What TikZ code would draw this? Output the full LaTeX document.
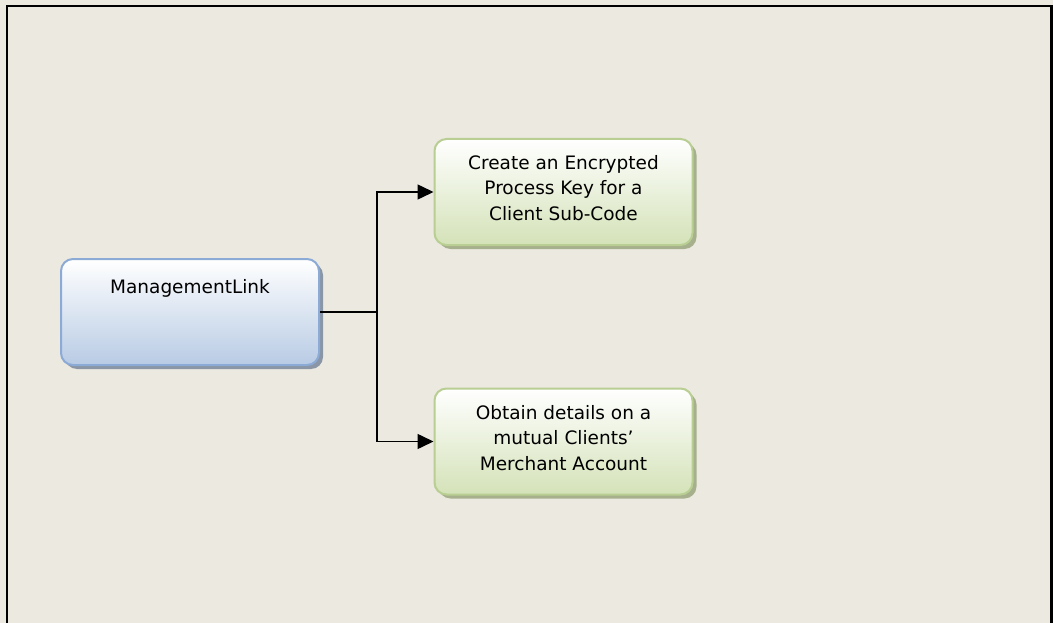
\documentclass[tikz,border=0pt]{standalone}
\usepackage{fontspec}
\setmainfont{DejaVu Sans}
\usetikzlibrary{arrows.meta,shadows}
\definecolor{bg}{RGB}{236,233,224}
\definecolor{bluebot}{RGB}{184,203,228}
\definecolor{blueborder}{RGB}{140,170,214}
\definecolor{blueshadow}{RGB}{138,150,166}
\definecolor{greenbot}{RGB}{212,226,184}
\definecolor{greenborder}{RGB}{184,206,146}
\definecolor{greenshadow}{RGB}{166,176,140}
\tikzset{
  box/.style={rectangle, rounded corners=12pt, minimum width=258pt, minimum height=106pt,
    line width=2pt, inner sep=0pt},
  bluebox/.style={box, draw=blueborder, top color=white, bottom color=bluebot,
    general shadow={shadow xshift=4pt, shadow yshift=-4pt, fill=blueshadow}},
  greenbox/.style={box, draw=greenborder, top color=white, bottom color=greenbot,
    general shadow={shadow xshift=4pt, shadow yshift=-4pt, fill=greenshadow}},
  lbl/.style={align=center, font=\fontsize{18.5}{25.5}\selectfont, inner sep=0pt},
  conn/.style={line width=1.5pt, black},
  arr/.style={conn, -{Triangle[length=16pt,width=15pt]}}
}
\begin{document}
\begin{tikzpicture}[x=1pt,y=-1pt]
\fill[bg] (0,0) rectangle (1053,623);
\useasboundingbox (0,0) rectangle (1053,623);
\draw[line width=2.2pt] (7,623) -- (7,6) -- (1051.5,6) -- (1051.5,623);
\node[bluebox] (ml) at (190,312) {};
\node[lbl] (mlt) at (190,288) {ManagementLink};
\node[greenbox] (ck) at (563.5,192) {};
\node[lbl] (ckt) at (563.5,188) {Create an Encrypted\\Process Key for a\\Client Sub-Code};
\node[greenbox] (ob) at (563.5,441.5) {};
\node[lbl] (obt) at (563.5,438) {Obtain details on a\\mutual Clients'\\Merchant Account};
\coordinate (j) at (377,312);
\draw[conn] (ml.east) -- (j);
\draw[arr] (j) |- (ck.west);
\draw[arr] (j) |- (ob.west);
\end{tikzpicture}
\end{document}
